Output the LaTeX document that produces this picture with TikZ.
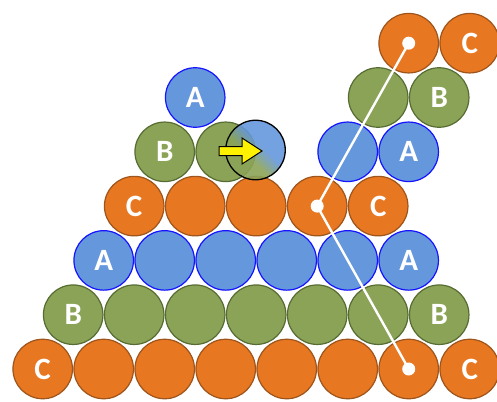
\documentclass[tikz,border=0pt]{standalone}
\usepackage{fontspec}
\setsansfont{Carlito}
\usetikzlibrary{positioning}
\definecolor{ballorange}{RGB}{232,119,34}
\definecolor{orangeedge}{RGB}{158,84,26}
\definecolor{ballgreen}{RGB}{139,163,87}
\definecolor{greenedge}{RGB}{86,108,50}
\definecolor{ballblue}{RGB}{101,151,220}
\definecolor{blueedge}{RGB}{20,20,255}
\pgfdeclarehorizontalshading{mixshade}{100bp}{
  color(0bp)=(ballgreen); color(42bp)=(ballgreen);
  color(56bp)=(ballblue); color(100bp)=(ballblue)}

\begin{document}
\begin{tikzpicture}[
        x=1pt,y=-1pt,
        ball/.style={
          circle,
          minimum size=59.5pt,
          inner sep=0pt,
          line width=1.2pt,
          text=white,
          font=\sffamily\bfseries\fontsize{31}{31}\selectfont
        },
        layerA/.style={ball,fill=ballblue,draw=blueedge},
        layerB/.style={ball,fill=ballgreen,draw=greenedge},
        layerC/.style={ball,fill=ballorange,draw=orangeedge},
        guide/.style={white,line width=2.4pt},
        pin/.style={circle,fill=white,inner sep=0pt,minimum size=13pt},
      ]
      \useasboundingbox (0,0) rectangle (497,401);

      % row 0: C
      \node[layerC] (c0-0) at (42.7,369) {C};
      \foreach \k in {1,...,6}
        \node[layerC] (c0-\k) at ({42.7+61*\k},369) {};
      \node[layerC] (c0-7) at (469.7,369) {C};

      % row 1: B
      \node[layerB] (c1-0) at (73.2,314.7) {B};
      \foreach \k in {1,...,5}
        \node[layerB] (c1-\k) at ({73.2+61*\k},314.7) {};
      \node[layerB] (c1-6) at (439.2,314.7) {B};

      % row 2: A
      \node[layerA] (c2-0) at (103.7,260.4) {A};
      \foreach \k in {1,...,4}
        \node[layerA] (c2-\k) at ({103.7+61*\k},260.4) {};
      \node[layerA] (c2-5) at (408.7,260.4) {A};

      % row 3: C
      \node[layerC] (c3-0) at (134.2,206.1) {C};
      \foreach \k in {1,...,3}
        \node[layerC] (c3-\k) at ({134.2+61*\k},206.1) {};
      \node[layerC] (c3-4) at (378.2,206.1) {C};

      % upper rows
      \node[layerB] (c4-0) at (164.7,151.8) {B};
      \node[layerB] (c4-1) at (225.7,151.8) {};
      \node[layerA] (c4-3) at (347.7,151.8) {};
      \node[layerA] (c4-4) at (408.7,151.8) {A};
      \node[layerA] (c5-0) at (195.2,97.5) {A};
      \node[layerB] (c5-3) at (378.2,97.5) {};
      \node[layerB] (c5-4) at (439.2,97.5) {B};
      \node[layerC] (c6-3) at (408.7,43.2) {};
      \node[layerC] (c6-4) at (469.7,43.2) {C};

      % sliding ball
      \node[circle,minimum size=59.5pt,inner sep=0pt,draw=black,line width=1.3pt,
        shading=mixshade,shading angle=45,
        fill opacity=0.9] (mix) at (255.5,150) {};
      \draw[fill=yellow,line width=1pt]
        (219,146.5) -- (242,146.5) -- (242,138) -- (262,151)
        -- (242,164) -- (242,155.5) -- (219,155.5) -- cycle;

      \draw[guide] (c6-3.center) -- (c3-3.center) -- (c0-6.center);
      \node[pin] (top) at (c6-3) {};
      \node[pin] (mid) at (c3-3) {};
      \node[pin] (bottom) at (c0-6) {};
    \end{tikzpicture}
\end{document}
